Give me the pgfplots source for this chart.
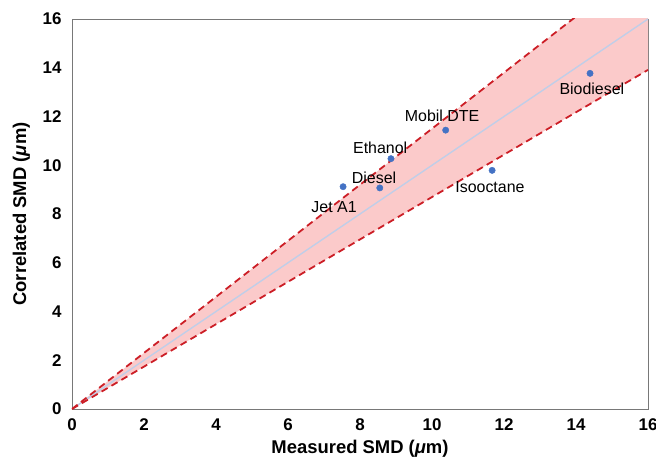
\documentclass[border=0pt]{standalone}
\usepackage{fontspec}
\setmainfont{Liberation Sans}
\usepackage{pgfplots}
\pgfplotsset{compat=1.18}
\definecolor{bandfill}{RGB}{251,202,202}
\definecolor{dashred}{RGB}{204,30,38}
\definecolor{diagblue}{RGB}{192,206,232}
\definecolor{ptblue}{RGB}{68,114,196}
\definecolor{axgray}{RGB}{120,120,120}
\begin{document}
\begin{tikzpicture}
\useasboundingbox (-72bp,-52bp) rectangle (584bp,409bp);
\begin{axis}[
  scale only axis, width=576bp, height=390bp,
  xmin=0, xmax=16, ymin=0, ymax=16,
  xtick={0,2,...,16}, ytick={0,2,...,16},
  axis line style={axgray, line width=0.8pt},
  major tick length=0pt,
  /pgf/number format/assume math mode=true,
  tick label style={font=\fontsize{17}{19}\selectfont\bfseries},
  xticklabel style={yshift=-6bp},
  yticklabel style={xshift=-7bp},
  xlabel={\fontsize{18.5}{21}\selectfont\bfseries Measured SMD (\textit{μ}m)},
  ylabel={\fontsize{18.5}{21}\selectfont\bfseries Correlated SMD (\textit{μ}m)},
  xlabel style={at={(axis description cs:0.5,-0.102)}, anchor=center},
  ylabel style={at={(axis description cs:-0.088,0.5)}, anchor=center},
  clip=true,
]
% +/-15% band
\addplot[fill=bandfill, draw=none] coordinates {(0,0) (16,18.4) (16,13.913) (0,0)};
\addplot[diagblue, line width=1.4pt] coordinates {(0,0) (16,16)};
\addplot[dashred, line width=1.8pt, dash pattern=on 7pt off 4.5pt] coordinates {(0,0) (16,18.4)};
\addplot[dashred, line width=1.8pt, dash pattern=on 7pt off 4.5pt] coordinates {(0,0) (16,13.913)};
\addplot[only marks, mark=*, mark size=3.2pt, ptblue] coordinates {
  (7.53,9.12) (8.55,9.07) (8.86,10.27) (10.38,11.44) (11.67,9.79) (14.39,13.77)};
\begin{scope}[every node/.style={font=\fontsize{16}{18}\selectfont, inner sep=0pt}]
\node at (axis cs:14.44,13.13) {Biodiesel};
\node at (axis cs:10.28,12.02) {Mobil DTE};
\node at (axis cs:8.56,10.71) {Ethanol};
\node at (axis cs:8.39,9.48) {Diesel};
\node at (axis cs:7.28,8.29) {Jet A1};
\node at (axis cs:11.61,9.11) {Isooctane};
\end{scope}
\end{axis}
\end{tikzpicture}
\end{document}
